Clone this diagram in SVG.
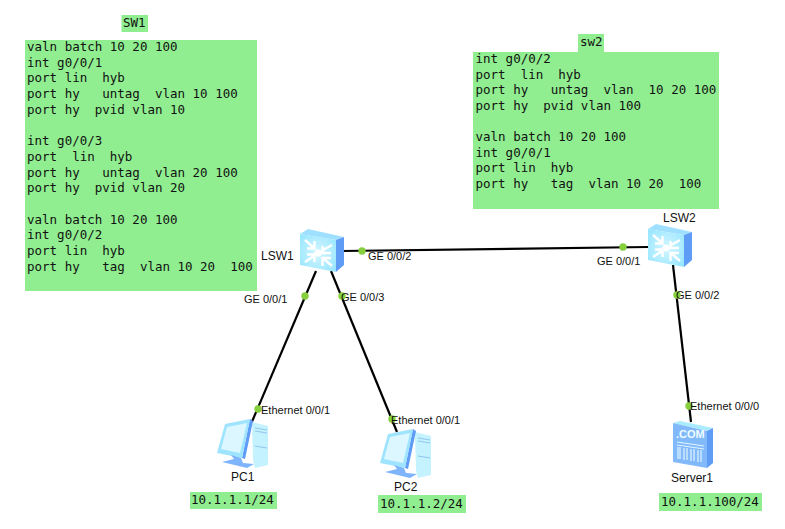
<svg xmlns="http://www.w3.org/2000/svg" width="785" height="529" viewBox="0 0 785 529">
<style>
.note{fill:#90ee90}
.m{font-family:"DejaVu Sans Mono","Liberation Mono",monospace;font-size:12.5px;fill:#111;white-space:pre}
.l{font-family:"Liberation Sans",Arial,sans-serif;font-size:11px;fill:#111}
.n{font-family:"Liberation Sans",Arial,sans-serif;font-size:12px;fill:#111}
.w{stroke:#000;stroke-width:2.2;fill:none}
.d{fill:#85d03c}
</style>
<defs>
<radialGradient id="gf" cx="50%" cy="50%" r="65%"><stop offset="0" stop-color="#d4f6ff"/><stop offset="1" stop-color="#97e6ff"/></radialGradient>
<g id="sw">
<path d="M0 5L8 0L44 8L36 11Z" fill="#9fdfff"/>
<path d="M0 5L36 11V43L0 36Z" fill="url(#gf)"/>
<path d="M36 11L44 8V36L36 43Z" fill="#5f9cf5"/>
<g stroke="#fff" stroke-width="2.4" fill="none">
<path d="M5 11L14 19M7 19.5H14.5V12"/>
<path d="M32 16L23 21M31 24H22.5V17"/>
<path d="M5 33L14 27M7 25.5H14.5V33"/>
<path d="M32 37L23 29M31 29H22.5V37"/>
</g>
<circle cx="18" cy="24" r="3.6" fill="#fff"/>
</g>
<g id="pc">
<path d="M35 4L51 8V47L38 50L36 42Z" fill="#c4f2ff"/>
<path d="M33 1L36 3L28 41L25 40Z" fill="#5f9cf5"/>
<path d="M8 6L33 1L25 40L0 35Z" fill="#9fe4ff"/>
<path d="M10 9L30 5L23 35L4 31Z" fill="#dcf7ff"/>
<path d="M14 37L24 40L26 45L37 46L30 50L5 44L17 41Z" fill="#7db4fb"/>
<path d="M38 10L50 12M38 13L50 15M38 28L50 30" stroke="#8fc7ee" stroke-width="1"/>
</g>
</defs>
<g id="connectors">
<path class="w" d="M342 251L648 247"/>
<path class="w" d="M316 271L251 424"/>
<path class="w" d="M331 271L397 432"/>
<path class="w" d="M673 265L691 422"/>
<circle class="d" cx="305" cy="296" r="3.7"/>
<circle class="d" cx="342" cy="296" r="3.7"/>
<circle class="d" cx="362" cy="251" r="3.7"/>
<circle class="d" cx="623" cy="247" r="3.7"/>
<circle class="d" cx="677" cy="295" r="3.7"/>
<circle class="d" cx="258" cy="409" r="3.7"/>
<circle class="d" cx="392" cy="419" r="3.7"/>
<circle class="d" cx="689" cy="406" r="3.7"/>
</g>
<g id="note-sw1-title"><rect class="note" x="121.500" y="15" width="26.500" height="17"/><text class="m" x="123" y="27">SW1</text></g>
<g id="note-sw1"><rect class="note" x="25" y="40" width="232" height="251"/>
<text class="m" x="27" y="51">valn batch 10 20 100</text>
<text class="m" x="27" y="67">int g0/0/1</text>
<text class="m" x="27" y="82">port lin  hyb</text>
<text class="m" x="27" y="98">port hy   untag  vlan 10 100</text>
<text class="m" x="27" y="114">port hy  pvid vlan 10</text>
<text class="m" x="27" y="145">int g0/0/3</text>
<text class="m" x="27" y="161">port  lin  hyb</text>
<text class="m" x="27" y="177">port hy   untag  vlan 20 100</text>
<text class="m" x="27" y="192">port hy  pvid vlan 20</text>
<text class="m" x="27" y="224">valn batch 10 20 100</text>
<text class="m" x="27" y="239">int g0/0/2</text>
<text class="m" x="27" y="255">port lin  hyb</text>
<text class="m" x="27" y="271">port hy   tag  vlan 10 20  100</text>
</g>
<g id="note-sw2-title"><rect class="note" x="578" y="34" width="26" height="18"/><text class="m" x="580" y="46">sw2</text></g>
<g id="note-sw2"><rect class="note" x="473" y="52" width="246" height="157"/>
<text class="m" x="475.500" y="63">int g0/0/2</text>
<text class="m" x="475.500" y="79">port  lin  hyb</text>
<text class="m" x="475.500" y="94">port hy   untag  vlan  10 20 100</text>
<text class="m" x="475.500" y="110">port hy  pvid vlan 100</text>
<text class="m" x="475.500" y="141">valn batch 10 20 100</text>
<text class="m" x="475.500" y="157">int g0/0/1</text>
<text class="m" x="475.500" y="172">port lin  hyb</text>
<text class="m" x="475.500" y="188">port hy   tag  vlan 10 20  100</text>
</g>
<g id="LSW1"><use href="#sw" x="300" y="229"/><text class="n" x="261" y="260">LSW1</text></g>
<g id="LSW2"><use href="#sw" x="648" y="224"/><text class="n" x="663" y="222">LSW2</text></g>
<g id="PC1"><use href="#pc" x="217" y="418"/><text class="n" x="231" y="481">PC1</text></g>
<g id="PC2"><use href="#pc" x="380" y="428"/><text class="n" x="394" y="491">PC2</text></g>
<g id="Server1">
<path d="M673 423L680 421L713 428L707 431Z" fill="#a9ecff"/>
<path d="M673 423L707 431V468L673 462Z" fill="#82b9fb"/>
<path d="M707 431L713 428V463L707 468Z" fill="#5f9cf5"/>
<text x="676" y="438" font-family="Liberation Sans,Arial,sans-serif" font-size="11" font-weight="bold" fill="#eefcff">.COM</text>
<path d="M677 442L704 446M677 445L704 449" stroke="#dff6ff" stroke-width="1" fill="none"/>
<path d="M678 447V459M680 447V459M684 448V460M687 448V460M691 449V461M694 449V461M698 450V462M701 450V462" stroke="#dff6ff" stroke-width="1.200" fill="none"/>
<text class="n" x="671" y="482">Server1</text>
</g>
<g id="labels">
<text class="l" x="368" y="260">GE 0/0/2</text>
<text class="l" x="597" y="265">GE 0/0/1</text>
<text class="l" x="244" y="303">GE 0/0/1</text>
<text class="l" x="341" y="301">GE 0/0/3</text>
<text class="l" x="676" y="299">GE 0/0/2</text>
<text class="l" x="261" y="414">Ethernet 0/0/1</text>
<text class="l" x="391" y="424">Ethernet 0/0/1</text>
<text class="l" x="690" y="410">Ethernet 0/0/0</text>
</g>
<g id="ip1"><rect class="note" x="190" y="492" width="87" height="17"/><text class="m" x="191" y="504">10.1.1.1/24</text></g>
<g id="ip2"><rect class="note" x="378" y="495" width="88" height="18"/><text class="m" x="380" y="508">10.1.1.2/24</text></g>
<g id="ip3"><rect class="note" x="659" y="493" width="103" height="18"/><text class="m" x="661" y="506">10.1.1.100/24</text></g>
</svg>
